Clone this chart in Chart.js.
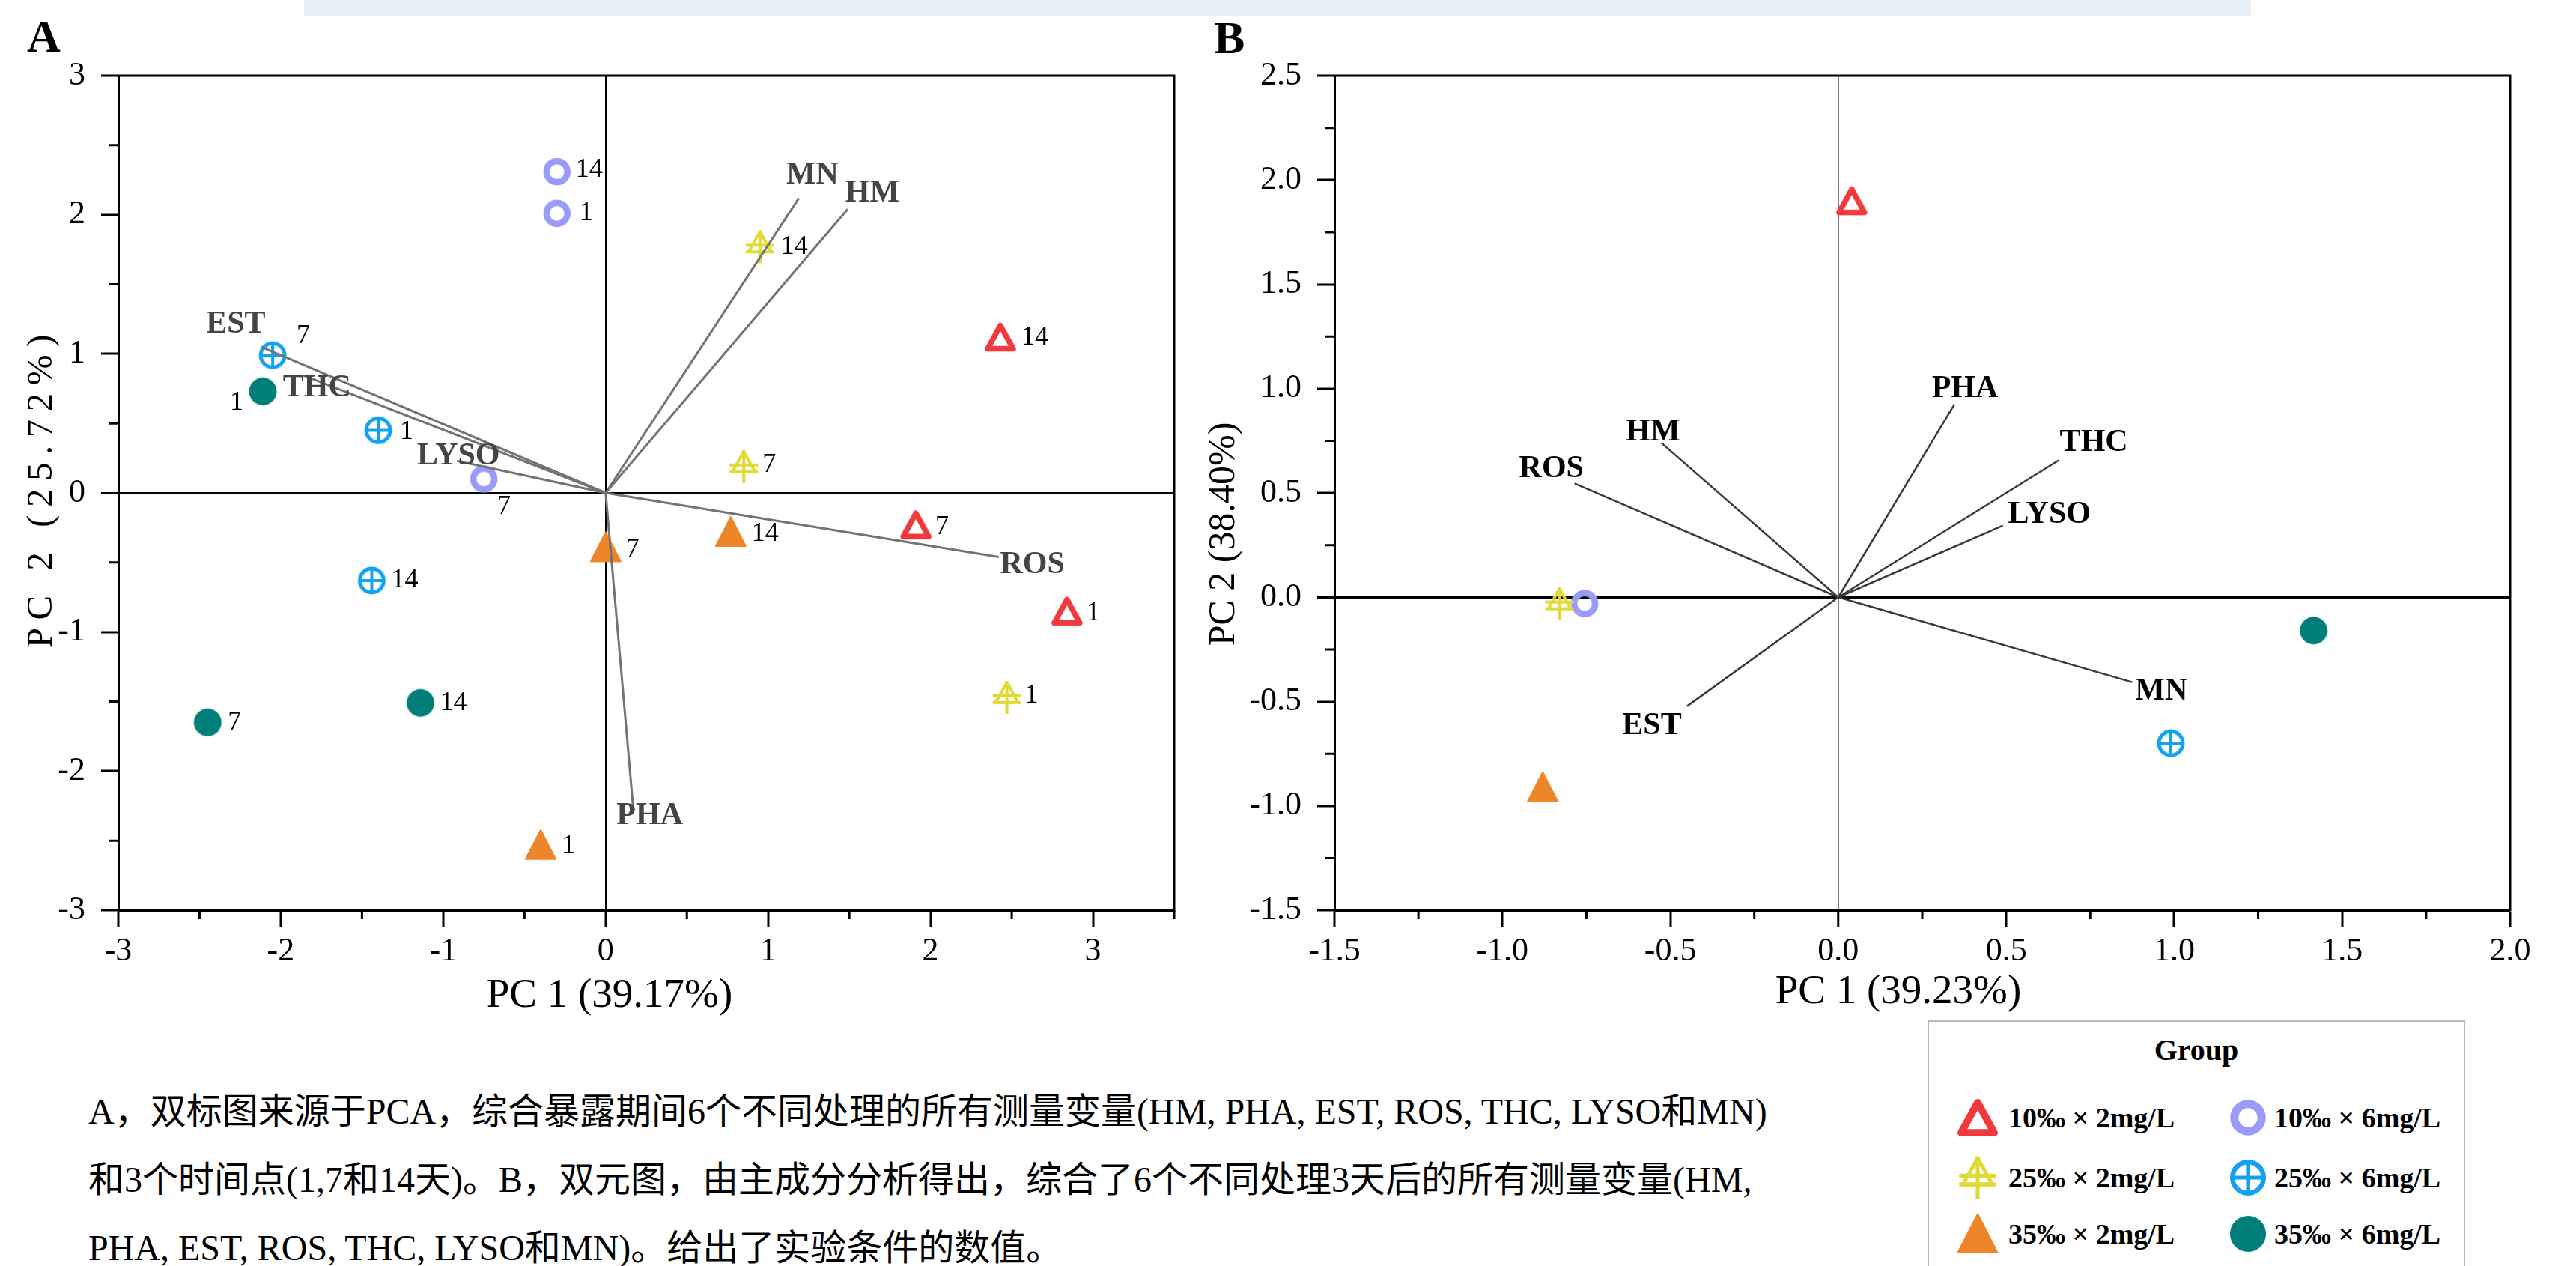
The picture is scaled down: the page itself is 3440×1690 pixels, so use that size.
<!DOCTYPE html>
<html>
<head>
<meta charset="utf-8">
<title>PCA biplots</title>
<script src="https://cdn.jsdelivr.net/npm/chart.js@4.4.1/dist/chart.umd.min.js"></script>
<style>
  body {
    margin: 0;
    width: 3440px;
    height: 1690px;
    overflow: hidden;
    position: relative;
    background: #fff;
    font-family: "Liberation Serif", "Noto Sans CJK SC", serif;
  }
  .topbar { position: absolute; left: 406px; top: 0; width: 2600px; height: 22px; background: #e9f0f8; }
  .tag { position: absolute; font: bold 62px/62px "Liberation Serif", serif; }
  #chart-a { position: absolute; left: 0; top: 0; }
  #chart-b { position: absolute; left: 1600px; top: 0; }
  .caption {
    position: absolute; left: 118px; top: 1436px;
    font-size: 48px; line-height: 87px; white-space: nowrap; color: #000;
    font-family: "Noto Sans CJK SC", sans-serif;
  }
  .caption .lt { font-family: "Liberation Serif", serif; }
  #legend {
    position: absolute; left: 2574px; top: 1362px; width: 718px; height: 400px;
    box-sizing: border-box; border: 2px solid #b8b8b8; background: #fff;
  }
  #legend .legend-title {
    position: absolute; left: 0; right: 0; top: 12px; text-align: center;
    font: bold 40px/52px "Liberation Serif", serif;
  }
  #legend ul { margin: 0; padding: 0; list-style: none; }
  #legend li {
    position: absolute; display: flex; align-items: center; height: 62px;
    font: bold 38px "Liberation Serif", serif; white-space: nowrap;
  }
</style>
</head>
<body>
<div class="topbar"></div>
<div class="tag" style="left:36px; top:17px">A</div>
<div class="tag" style="left:1621px; top:19px">B</div>
<canvas id="chart-a" width="1600" height="1360"></canvas>
<canvas id="chart-b" width="1840" height="1360"></canvas>
<div class="caption" id="caption"></div>
<div id="legend"><div class="legend-title">Group</div><ul id="legend-items"></ul></div>

<script>
window.onload = function () {
  chartDraw();
  buildLegend();
  buildCaption();
};

const groups = [
  "10‰ × 2mg/L",
  "25‰ × 2mg/L",
  "35‰ × 2mg/L",
  "10‰ × 6mg/L",
  "25‰ × 6mg/L",
  "35‰ × 6mg/L",
];
const days = ["1", "7", "14"];

// panel A scores, days 1, 7, 14
const a10x2PC1 = [2.84, 1.91, 2.43];
const a10x2PC2 = [-0.85, -0.23, 1.12];
const a25x2PC1 = [2.47, 0.85, 0.95];
const a25x2PC2 = [-1.47, 0.19, 1.77];
const a35x2PC1 = [-0.4, 0.0, 0.77];
const a35x2PC2 = [-2.53, -0.39, -0.28];
const a10x6PC1 = [-0.3, -0.75, -0.3];
const a10x6PC2 = [2.01, 0.1, 2.31];
const a25x6PC1 = [-1.4, -2.05, -1.44];
const a25x6PC2 = [0.45, 0.99, -0.63];
const a35x6PC1 = [-2.11, -2.45, -1.14];
const a35x6PC2 = [0.73, -1.65, -1.51];

// panel A loadings
const varsA = ["HM", "PHA", "EST", "ROS", "THC", "LYSO", "MN"];
const loadAPC1 = [1.49, 0.17, -2.12, 2.42, -1.86, -0.915, 1.19];
const loadAPC2 = [2.04, -2.27, 1.05, -0.46, 0.845, 0.23, 2.12];

// panel B scores, one per group
const bPC1 = [0.04, -0.83, -0.88, -0.755, 0.99, 1.415];
const bPC2 = [1.9, -0.03, -0.91, -0.03, -0.7, -0.16];

// panel B loadings
const varsB = ["HM", "PHA", "EST", "ROS", "THC", "LYSO", "MN"];
const loadBPC1 = [-0.527, 0.346, -0.45, -0.785, 0.656, 0.49, 0.875];
const loadBPC2 = [0.74, 0.925, -0.522, 0.545, 0.656, 0.343, -0.407];

// axis ranges: min, max, labelled step, minor step
const rangeAX = [-3, 3.5, 1, 0.5];
const rangeAY = [-3, 3, 1, 0.5];
const rangeBX = [-1.5, 2, 0.5, 0.25];
const rangeBY = [-1.5, 2.5, 0.5, 0.25];

const captionLines = [
  "A，双标图来源于PCA，综合暴露期间6个不同处理的所有测量变量(HM, PHA, EST, ROS, THC, LYSO和MN)",
  "和3个时间点(1,7和14天)。B，双元图，由主成分分析得出，综合了6个不同处理3天后的所有测量变量(HM,",
  "PHA, EST, ROS, THC, LYSO和MN)。给出了实验条件的数值。",
];

// ---- styles ----
const groupColors = ["#f0393d", "#e0da36", "#ee8529", "#999bf6", "#13a2f2", "#007f7a"];
const groupShapes = ["triOpen", "triPlus", "triFill", "ringOpen", "ringPlus", "dotFill"];

const dayTagOffsets = [
  [[26, 3], [26, 3], [28, 0]],
  [[24, -2], [25, -2], [28, 0]],
  [[28, 2], [27, 3], [28, 3]],
  [[30, 0], [18, 37], [25, -3]],
  [[29, 2], [32, -26], [26, 0]],
  [[-44, 15], [27, 0], [26, 0]],
];
const varTagOffsetsA = [[33, -21], [22, 10], [-34, -30], [45, 11], [18, 17], [2, -6], [18, -30]];
const varTagOffsetsB = [[-11, -14], [14, -20], [-47, 27], [-31, -19], [47, -23], [62, -15], [39, 13]];

const legendSpots = [[65, 128], [65, 208], [65, 283], [426, 128], [426, 208], [426, 283]];

Chart.defaults.font.family = "'Liberation Serif', serif";
Chart.defaults.color = "#000";

let makeMarker = function (shape, color, k) {
  let s = Math.round(48 * k);
  let c = document.createElement("canvas");
  c.width = s;
  c.height = s;
  let g = c.getContext("2d");
  g.translate(s / 2, s / 2);
  g.scale(k, k);
  g.strokeStyle = color;
  g.fillStyle = color;
  g.lineJoin = "round";
  g.lineCap = "butt";

  if (shape === "triOpen") {
    g.lineWidth = 7.5;
    g.beginPath();
    g.moveTo(0, -15.5);
    g.lineTo(17, 15.5);
    g.lineTo(-17, 15.5);
    g.closePath();
    g.stroke();
  } else if (shape === "triFill") {
    g.lineWidth = 2;
    g.beginPath();
    g.moveTo(0, -20);
    g.lineTo(20, 19);
    g.lineTo(-20, 19);
    g.closePath();
    g.fill();
    g.stroke();
  } else if (shape === "triPlus") {
    g.lineWidth = 4;
    g.beginPath();
    g.moveTo(0, -20);
    g.lineTo(15, 7);
    g.lineTo(-15, 7);
    g.closePath();
    g.stroke();
    g.beginPath();
    g.moveTo(0, -22);
    g.lineTo(0, 22);
    g.moveTo(-19, -2);
    g.lineTo(19, -2);
    g.moveTo(-19, 7);
    g.lineTo(19, 7);
    g.stroke();
  } else if (shape === "ringOpen") {
    g.lineWidth = 8.5;
    g.beginPath();
    g.arc(0, 0, 14, 0, Math.PI * 2);
    g.stroke();
  } else if (shape === "ringPlus") {
    g.lineWidth = 5;
    g.beginPath();
    g.arc(0, 0, 16, 0, Math.PI * 2);
    g.stroke();
    g.lineWidth = 4;
    g.beginPath();
    g.moveTo(0, -16);
    g.lineTo(0, 16);
    g.moveTo(-16, 0);
    g.lineTo(16, 0);
    g.stroke();
  } else {
    g.beginPath();
    g.arc(0, 0, 18.5, 0, Math.PI * 2);
    g.fill();
  }
  return c;
};

let pts = function (xs, ys) {
  return xs.map(function (x, i) {
    return { x: x, y: ys[i] };
  });
};

let scoreSet = function (i, data, tags, offsets) {
  return {
    label: groups[i],
    data: data,
    pointStyle: makeMarker(groupShapes[i], groupColors[i], 1),
    pointRadius: 20,
    pointHoverRadius: 20,
    tags: tags,
    tagOffsets: offsets,
    tagFont: "36px 'Liberation Serif'",
    tagColor: "#000",
    tagAlign: "left",
    order: 2,
  };
};

let loadingSets = function (names, xs, ys, offsets, color, width, tagColor) {
  return names.map(function (name, i) {
    return {
      label: name,
      data: [{ x: 0, y: 0 }, { x: xs[i], y: ys[i] }],
      showLine: true,
      borderColor: color,
      borderWidth: width,
      pointRadius: 0,
      pointHoverRadius: 0,
      tags: ["", name],
      tagOffsets: [[0, 0], offsets[i]],
      tagFont: "bold 42px 'Liberation Serif'",
      tagColor: tagColor,
      tagAlign: "center",
      order: 1,
    };
  });
};

// text next to points and loading tips
const tagPlugin = {
  id: "tags",
  afterDatasetsDraw(chart) {
    let ctx = chart.ctx;
    chart.data.datasets.forEach(function (ds, i) {
      if (!ds.tags) return;
      let meta = chart.getDatasetMeta(i);
      ctx.save();
      ctx.font = ds.tagFont;
      ctx.fillStyle = ds.tagColor;
      ctx.textAlign = ds.tagAlign;
      ctx.textBaseline = "middle";
      ds.tags.forEach(function (t, j) {
        if (!t) return;
        let el = meta.data[j];
        ctx.fillText(t, el.x + ds.tagOffsets[j][0], el.y + ds.tagOffsets[j][1]);
      });
      ctx.restore();
    });
  },
};

// closing frame, short minor ticks, axis titles
const framePlugin = {
  id: "frame",
  afterDraw(chart, args, opts) {
    let ctx = chart.ctx;
    let a = chart.chartArea;
    let xs = chart.scales.x;
    let ys = chart.scales.y;
    ctx.save();
    ctx.strokeStyle = "#000";
    ctx.lineWidth = 3;
    ctx.beginPath();
    ctx.moveTo(a.left - 1.5, a.top);
    ctx.lineTo(a.right, a.top);
    ctx.lineTo(a.right, a.bottom + 1.5);
    ctx.stroke();

    ctx.beginPath();
    for (let v = xs.min; v <= xs.max + 1e-9; v += opts.minorX) {
      let r = v / opts.majorX;
      if (Math.abs(r - Math.round(r)) < 1e-6) continue;
      let px = xs.getPixelForValue(v);
      ctx.moveTo(px, a.bottom);
      ctx.lineTo(px, a.bottom + 12);
    }
    for (let v = ys.min; v <= ys.max + 1e-9; v += opts.minorY) {
      let r = v / opts.majorY;
      if (Math.abs(r - Math.round(r)) < 1e-6) continue;
      let py = ys.getPixelForValue(v);
      ctx.moveTo(a.left - 12, py);
      ctx.lineTo(a.left, py);
    }
    ctx.stroke();

    ctx.fillStyle = "#000";
    ctx.textAlign = "center";
    ctx.textBaseline = "middle";
    opts.titles.forEach(function (t) {
      ctx.save();
      ctx.translate(t.x, t.y);
      ctx.rotate(t.rot);
      ctx.font = t.size + "px 'Liberation Serif'";
      ctx.letterSpacing = t.spacing + "px";
      ctx.fillText(t.text, t.spacing / 2, 0);
      ctx.restore();
    });
    ctx.restore();
  },
};

let axis = function (range, fmt, fit, zeroWidth, tickPad, horizontal) {
  return {
    type: "linear",
    min: range[0],
    max: range[1],
    afterFit: function (scale) {
      if (horizontal) scale.height = fit;
      else scale.width = fit;
    },
    ticks: {
      stepSize: range[2],
      includeBounds: false,
      autoSkip: false,
      maxRotation: 0,
      padding: tickPad,
      font: { size: 44 },
      color: "#000",
      callback: fmt,
    },
    grid: {
      color: function (c) {
        return c.tick && Math.abs(c.tick.value) < 1e-9 ? "#000" : "rgba(0,0,0,0)";
      },
      lineWidth: function (c) {
        return c.tick && Math.abs(c.tick.value) < 1e-9 ? zeroWidth : 0;
      },
      tickColor: "#000",
      tickWidth: 3,
      tickLength: 23,
    },
    border: { display: true, color: "#000", width: 3 },
    title: { display: false },
  };
};

let chartDraw = function () {
  let ctxA = document.getElementById("chart-a").getContext("2d");
  let ctxB = document.getElementById("chart-b").getContext("2d");

  let scoresA = [
    scoreSet(0, pts(a10x2PC1, a10x2PC2), days, dayTagOffsets[0]),
    scoreSet(1, pts(a25x2PC1, a25x2PC2), days, dayTagOffsets[1]),
    scoreSet(2, pts(a35x2PC1, a35x2PC2), days, dayTagOffsets[2]),
    scoreSet(3, pts(a10x6PC1, a10x6PC2), days, dayTagOffsets[3]),
    scoreSet(4, pts(a25x6PC1, a25x6PC2), days, dayTagOffsets[4]),
    scoreSet(5, pts(a35x6PC1, a35x6PC2), days, dayTagOffsets[5]),
  ];

  let intLabel = function (v) {
    return String(v);
  };
  let oneDecimal = function (v) {
    return v.toFixed(1);
  };

  new Chart(ctxA, {
    type: "scatter",
    data: {
      datasets: loadingSets(varsA, loadAPC1, loadAPC2, varTagOffsetsA, "#737373", 3, "#444444").concat(scoresA),
    },
    options: {
      responsive: false,
      animation: false,
      events: [],
      layout: { padding: { top: 101, right: 32, left: 0, bottom: 0 } },
      plugins: {
        legend: { display: false },
        tooltip: { enabled: false },
        frame: {
          minorX: rangeAX[3], majorX: rangeAX[2], minorY: rangeAY[3], majorY: rangeAY[2],
          titles: [
            { text: "PC 1 (39.17%)", x: 814, y: 1330, rot: 0, size: 55, spacing: 0 },
            { text: "PC 2 (25.72%)", x: 56, y: 656, rot: -Math.PI / 2, size: 49, spacing: 10.5 },
          ],
        },
      },
      scales: {
        x: axis(rangeAX, intLabel, 145, 2, 6, true),
        y: axis(rangeAY, intLabel, 158, 3, 21, false),
      },
    },
    plugins: [framePlugin, tagPlugin],
  });

  let scoresB = groups.map(function (g, i) {
    return scoreSet(i, [{ x: bPC1[i], y: bPC2[i] }], [""], [[0, 0]]);
  });

  new Chart(ctxB, {
    type: "scatter",
    data: {
      datasets: loadingSets(varsB, loadBPC1, loadBPC2, varTagOffsetsB, "#3a3a3a", 2.5, "#000000").concat(scoresB),
    },
    options: {
      responsive: false,
      animation: false,
      events: [],
      layout: { padding: { top: 101, right: 88, left: 0, bottom: 0 } },
      plugins: {
        legend: { display: false },
        tooltip: { enabled: false },
        frame: {
          minorX: rangeBX[3], majorX: rangeBX[2], minorY: rangeBY[3], majorY: rangeBY[2],
          titles: [
            { text: "PC 1 (39.23%)", x: 935, y: 1325, rot: 0, size: 55, spacing: 0 },
            { text: "PC 2 (38.40%)", x: 35, y: 713, rot: -Math.PI / 2, size: 50, spacing: 0 },
          ],
        },
      },
      scales: {
        x: axis(rangeBX, oneDecimal, 145, 1.5, 6, true),
        y: axis(rangeBY, oneDecimal, 182, 3, 21, false),
      },
    },
    plugins: [framePlugin, tagPlugin],
  });
};

let buildLegend = function () {
  let ul = document.getElementById("legend-items");
  groups.forEach(function (label, index) {
    let li = document.createElement("li");
    let spot = legendSpots[index];
    li.style.left = spot[0] - 31 + "px";
    li.style.top = spot[1] - 31 + "px";
    li.appendChild(makeMarker(groupShapes[index], groupColors[index], 1.3));
    let span = document.createElement("span");
    span.style.marginLeft = (index < 3 ? 10 : 4) + "px";
    span.textContent = label;
    li.appendChild(span);
    ul.appendChild(li);
  });
};

// latin runs in the serif face, CJK runs in the CJK face
let buildCaption = function () {
  let box = document.getElementById("caption");
  box.innerHTML = captionLines
    .map(function (line) {
      return line.replace(/[\u0020-\u024F]+/g, function (run) {
        return '<span class="lt">' + run + "</span>";
      });
    })
    .join("<br>");
};
</script>
</body>
</html>
